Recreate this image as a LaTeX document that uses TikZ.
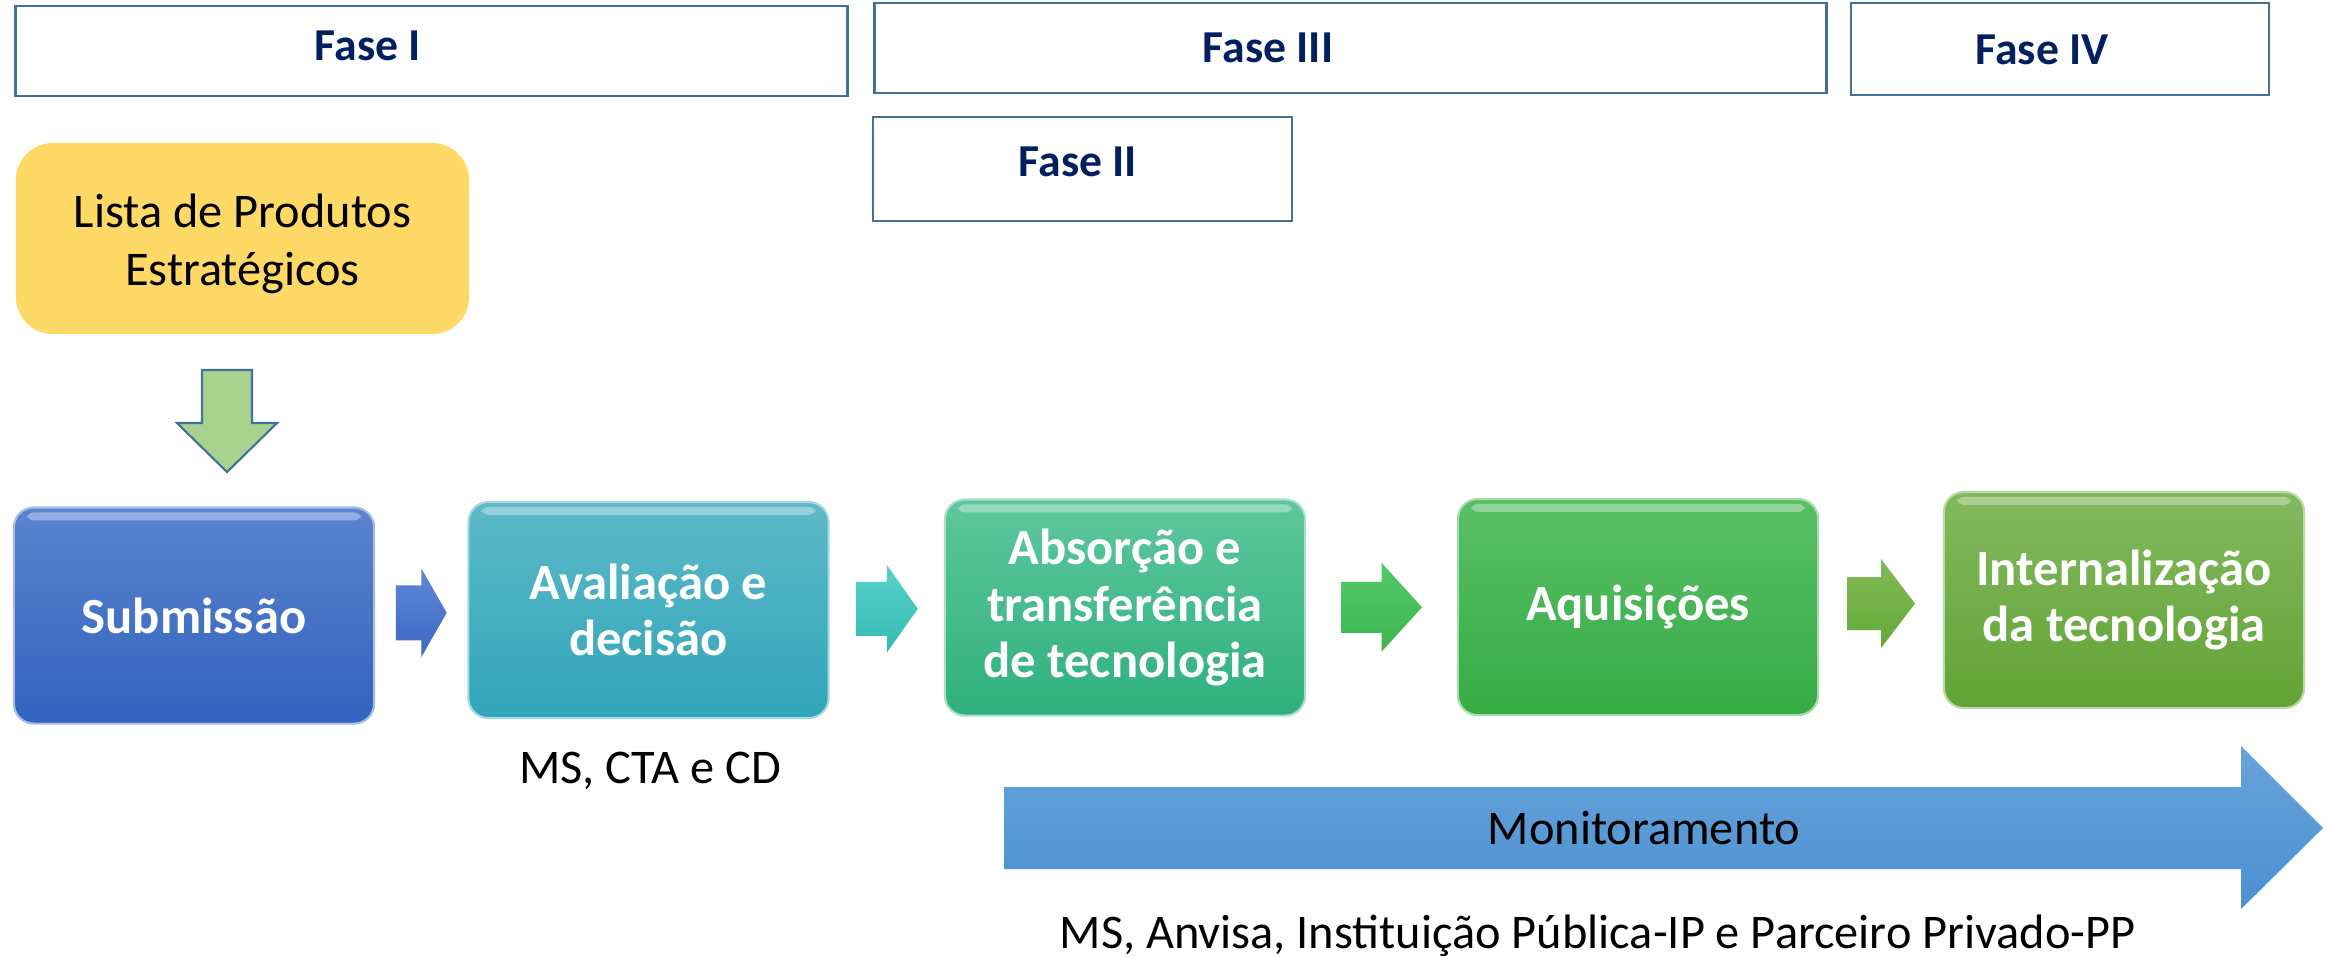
\documentclass[tikz,border=0pt]{standalone}
\usepackage{fontspec}
\setmainfont{Carlito}
\usetikzlibrary{calc}
\definecolor{faseline}{HTML}{41719C}
\definecolor{fasetext}{HTML}{002060}
\definecolor{listafill}{HTML}{FFD966}
\definecolor{downfill}{HTML}{A9D18E}
\definecolor{subT}{HTML}{5B83CF}\definecolor{subB}{HTML}{3163BE}
\definecolor{avaT}{HTML}{5DB9C8}\definecolor{avaB}{HTML}{30A6B8}
\definecolor{absT}{HTML}{5DC79C}\definecolor{absB}{HTML}{30B07E}
\definecolor{aqT}{HTML}{5ABF68}\definecolor{aqB}{HTML}{35AC44}
\definecolor{intT}{HTML}{82B95E}\definecolor{intB}{HTML}{62A335}
\definecolor{aoneT}{HTML}{5F88DA}\definecolor{aoneB}{HTML}{3E66C4}
\definecolor{atwoT}{HTML}{55D2CB}\definecolor{atwoB}{HTML}{35B9B0}
\definecolor{athrT}{HTML}{55C96A}\definecolor{athrB}{HTML}{3BB54E}
\definecolor{afouT}{HTML}{80BC55}\definecolor{afouB}{HTML}{65A83A}
\definecolor{monT}{HTML}{68A3DB}\definecolor{monB}{HTML}{4B90D1}
\tikzset{
  fasebox/.style={draw=faseline, line width=0.75pt, fill=white, inner sep=0pt},
  fasetxt/.style={font=\fontsize{13}{15}\selectfont\bfseries, text=fasetext, anchor=base, inner sep=0pt},
  stepbox/.style 2 args={rounded corners=0.2cm, inner sep=0pt, minimum width=3.6cm, minimum height=2.16cm,
    top color=#1, bottom color=#2, draw=#1!55!white, line width=0.6pt,
    text=white, font=\fontsize{14.4}{16.1}\selectfont\bfseries, align=center},
  plaintxt/.style={font=\fontsize{13.75}{16.6}\selectfont, text=black, inner sep=0pt},
  pics/barrow/.style n args={4}{code={
    \shade[#4] (-#1,-#2) -- (0,-#2) -- (0,-#3) -- (#1,0) -- (0,#3) -- (0,#2) -- (-#1,#2) -- cycle;
  }}
}
\begin{document}
\begin{tikzpicture}[x=0.01cm,y=-0.01cm]
\useasboundingbox (0,0) rectangle (2328,956);

% Fase boxes
\node[fasebox, minimum width=8.31cm, minimum height=0.90cm] (f1) at (431.5,51) {};
\node[fasetxt] (f1t) at (368,60) {Fase I};
\node[fasebox, minimum width=9.51cm, minimum height=0.90cm] (f3) at (1350.5,48) {};
\node[fasetxt] (f3t) at (1268,62) {Fase III};
\node[fasebox, minimum width=4.18cm, minimum height=0.92cm] (f4) at (2060,49) {};
\node[fasetxt] (f4t) at (2042,64) {Fase IV};
\node[fasebox, minimum width=4.19cm, minimum height=1.04cm] (f2) at (1082.5,169) {};
\node[fasetxt] (f2t) at (1078,176) {Fase II};

% Lista
\node[fill=listafill, rounded corners=0.37cm, minimum width=4.53cm, minimum height=1.91cm,
      inner sep=0pt, align=center, plaintxt] (lista) at (242.5,238.5) {};
\node[plaintxt, align=center] (listat) at (242.5,244) {Lista de Produtos\\Estratégicos};

% down arrow
\draw[line width=0.6pt, draw=faseline, fill=downfill, line join=miter]
  (202,370) -- (252,370) -- (252,423) -- (277,423) -- (227,472) -- (177,423) -- (202,423) -- cycle;

% step boxes
\node[stepbox={subT}{subB}] (sub) at (194,615.5) {Submissão};
\node[stepbox={avaT}{avaB}] (ava) at (648.5,610) {Avaliação e\\decisão};
\node[stepbox={absT}{absB}] (abs) at (1125,607.5) {Absorção e\\transferência\\de tecnologia};
\node[stepbox={aqT}{aqB}] (aq) at (1638,607) {Aquisições};
\node[stepbox={intT}{intB}] (int) at (2124,600) {Internalização\\da tecnologia};

% glossy top highlights
\foreach \b in {sub,ava,abs,aq,int}{
  \fill[white, opacity=0.35, rounded corners=2pt] ($(\b.north west)+(14,6)$) rectangle ($(\b.north east)+(-14,14)$);
}

% block arrows between steps
\path ($(sub.east)!0.5!(ava.west)$) pic {barrow={25.5}{27.5}{44.5}{top color=aoneT,bottom color=aoneB}};
\path ($(ava.east)!0.5!(abs.west)$) pic {barrow={31}{27}{44}{top color=atwoT,bottom color=atwoB}};
\path ($(abs.east)!0.5!(aq.west)$) pic {barrow={40.5}{25.5}{44.5}{top color=athrT,bottom color=athrB}};
\path ($(aq.east)!0.5!(int.west)$) pic {barrow={34}{26.5}{44.5}{top color=afouT,bottom color=afouB}};

% MS, CTA e CD
\node[plaintxt, anchor=base] (cta) at (650,783) {MS, CTA e CD};

% Monitoramento arrow
\shade[top color=monT, bottom color=monB]
  (1004,787) -- (2241,787) -- (2241,746) -- (2323,828) -- (2241,909) -- (2241,869) -- (1004,869) -- cycle;
\node[plaintxt] (mon) at (1644,828) {Monitoramento};

\node[plaintxt, anchor=base] (parts) at (1597.5,948) {MS, Anvisa, Instituição Pública-IP e Parceiro Privado-PP};
\end{tikzpicture}
\end{document}
